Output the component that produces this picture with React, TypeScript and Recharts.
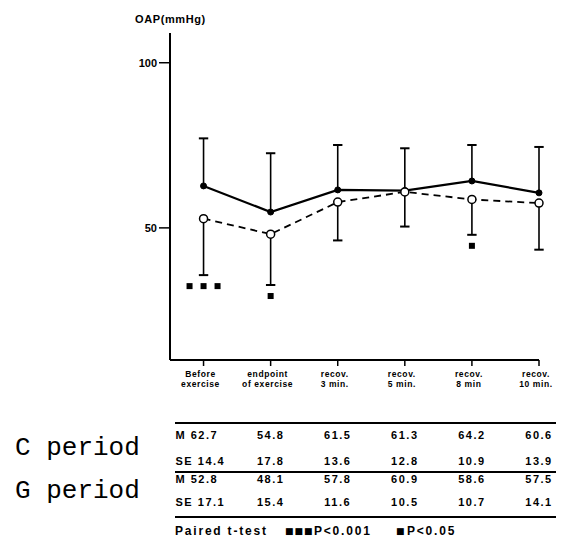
import React from 'react';
import { ComposedChart, Line, XAxis, YAxis, ReferenceLine, ReferenceDot } from 'recharts';

// time points
const categories = [
  ['Before', 'exercise'],
  ['endpoint', 'of exercise'],
  ['recov.', '3 min.'],
  ['recov.', '5 min.'],
  ['recov.', '8 min'],
  ['recov.', '10 min.'],
];
// C period (solid line, filled dots)
const cMean = [62.7, 54.8, 61.5, 61.3, 64.2, 60.6];
const cSE = [14.4, 17.8, 13.6, 12.8, 10.9, 13.9];
// G period (dashed line, open dots)
const gMean = [52.8, 48.1, 57.8, 60.9, 58.6, 57.5];
const gSE = [17.1, 15.4, 11.6, 10.5, 10.7, 14.1];
// number of significance marks under the G bars
const gSig = [3, 1, 0, 0, 1, 0];
const yTicks = [50, 100];
const xTicks = categories.map((_, i) => i);

const rows = categories.map((_, i) => ({ x: i, c: cMean[i], g: gMean[i] }));

const FONT = '"Liberation Sans", Arial, sans-serif';
const CAP = 0.07;

const CategoryTick = (props: any) => {
  const { x, y, payload } = props;
  const i = payload.value as number;
  const base = y - 8;
  const label = categories[i];
  const num = { fontFamily: FONT, fontSize: 11, fontWeight: 700, letterSpacing: 1.5, fill: '#000' } as const;
  const lab = { fontFamily: FONT, fontSize: 8.5, fontWeight: 700, letterSpacing: 0.6, fill: '#000' } as const;
  const cells = [
    [cMean[i].toFixed(1), 'M', 79],
    [cSE[i].toFixed(1), 'SE', 105],
    [gMean[i].toFixed(1), 'M', 123],
    [gSE[i].toFixed(1), 'SE', 146],
  ] as const;
  return (
    <g>
      <text x={x - 3} y={base + 17} textAnchor="middle" {...lab}>
        {label[0]}
      </text>
      <text x={x - 3} y={base + 27} textAnchor="middle" {...lab}>
        {label[1]}
      </text>
      {cells.map(([v, name, dy], k) =>
        i === 0 ? (
          <text key={k} x={x - 28} y={base + dy} {...num}>
            {name + ' ' + v}
          </text>
        ) : (
          <text key={k} x={x} y={base + dy} textAnchor="middle" {...num}>
            {v}
          </text>
        )
      )}
    </g>
  );
};

const SigMarks = (props: any) => {
  const { cx, cy, n } = props;
  const size = 6;
  const pitch = 14;
  const start = cx - ((n - 1) * pitch) / 2;
  return (
    <g>
      {Array.from({ length: n }).map((_, k) => (
        <rect key={k} x={start + k * pitch - size / 2} y={cy + 8} width={size} height={size} fill="#000" />
      ))}
    </g>
  );
};

export default function App() {
  const note = { fontFamily: FONT, fontSize: 12, fontWeight: 700, letterSpacing: 1.8, fill: '#000' } as const;
  const mark = { fontFamily: '"DejaVu Sans", sans-serif', fontSize: 9, letterSpacing: 1, fill: '#000' } as const;
  return (
    <div style={{ position: 'absolute', left: 0, top: 0, width: 563, height: 543, background: '#fff' }}>
      <ComposedChart width={563} height={543} data={rows} margin={{ top: 33, right: 24, bottom: 0, left: 0 }}>
        <XAxis
          type="number"
          dataKey="x"
          domain={[-0.5, 5]}
          ticks={xTicks}
          height={183}
          interval={0}
          tick={<CategoryTick />}
          axisLine={{ stroke: '#000', strokeWidth: 2 }}
          tickLine={{ stroke: '#000', strokeWidth: 1.5 }}
        />
        <YAxis
          type="number"
          domain={[10, 109]}
          ticks={yTicks}
          width={170}
          tickSize={11}
          tickMargin={2}
          tick={{ fontFamily: FONT, fontSize: 11, fontWeight: 700, fill: '#000' }}
          axisLine={{ stroke: '#000', strokeWidth: 2 }}
          tickLine={{ stroke: '#000', strokeWidth: 1.5 }}
        />
        {cMean.map((m, i) => (
          <ReferenceLine key={'cv' + i} ifOverflow="visible" segment={[{ x: i, y: m }, { x: i, y: m + cSE[i] }]} stroke="#000" strokeWidth={1.6} />
        ))}
        {cMean.map((m, i) => (
          <ReferenceLine key={'cc' + i} ifOverflow="visible" segment={[{ x: i - CAP, y: m + cSE[i] }, { x: i + CAP, y: m + cSE[i] }]} stroke="#000" strokeWidth={2} />
        ))}
        {gMean.map((m, i) => (
          <ReferenceLine key={'gv' + i} ifOverflow="visible" segment={[{ x: i, y: m }, { x: i, y: m - gSE[i] }]} stroke="#000" strokeWidth={1.6} />
        ))}
        {gMean.map((m, i) => (
          <ReferenceLine key={'gc' + i} ifOverflow="visible" segment={[{ x: i - CAP, y: m - gSE[i] }, { x: i + CAP, y: m - gSE[i] }]} stroke="#000" strokeWidth={2} />
        ))}
        {gMean.map((m, i) =>
          gSig[i] > 0 ? (
            <ReferenceDot key={'s' + i} ifOverflow="visible" x={i} y={m - gSE[i]} r={0} shape={(p: any) => <SigMarks cx={p.cx} cy={p.cy} n={gSig[i]} />} />
          ) : null
        )}
        <Line
          dataKey="c"
          stroke="#000"
          strokeWidth={2.2}
          dot={{ r: 3, fill: '#000', stroke: '#000', strokeWidth: 1 }}
          isAnimationActive={false}
        />
        <Line
          dataKey="g"
          stroke="#000"
          strokeWidth={1.8}
          strokeDasharray="7 5"
          dot={{ r: 4, fill: '#fff', stroke: '#000', strokeWidth: 1.5, strokeDasharray: '' }}
          isAnimationActive={false}
        />
      </ComposedChart>
      <svg width={563} height={543} style={{ position: 'absolute', left: 0, top: 0, pointerEvents: 'none' }}>
        <text x={135} y={23} fontFamily={FONT} fontSize={11} fontWeight={700} letterSpacing={0.6} fill="#000">
          OAP(mmHg)
        </text>
        <line x1={175} y1={423} x2={556} y2={423} stroke="#000" strokeWidth={2} />
        <line x1={175} y1={472} x2={556} y2={472} stroke="#000" strokeWidth={2} />
        <line x1={175} y1={517} x2={556} y2={517} stroke="#000" strokeWidth={2} />
        <text x={15} y={455} fontFamily='"Liberation Mono", monospace' fontSize={26} fill="#000">
          C period
        </text>
        <text x={15} y={498} fontFamily='"Liberation Mono", monospace' fontSize={26} fill="#000">
          G period
        </text>
        <text x={175} y={535} {...note}>Paired t-test</text>
        <text x={285} y={534} {...mark}>{'\u25A0\u25A0\u25A0'}</text>
        <text x={314} y={535} {...note}>{'P<0.001'}</text>
        <text x={396} y={534} {...mark}>{'\u25A0'}</text>
        <text x={407} y={535} {...note}>{'P<0.05'}</text>
      </svg>
    </div>
  );
}
